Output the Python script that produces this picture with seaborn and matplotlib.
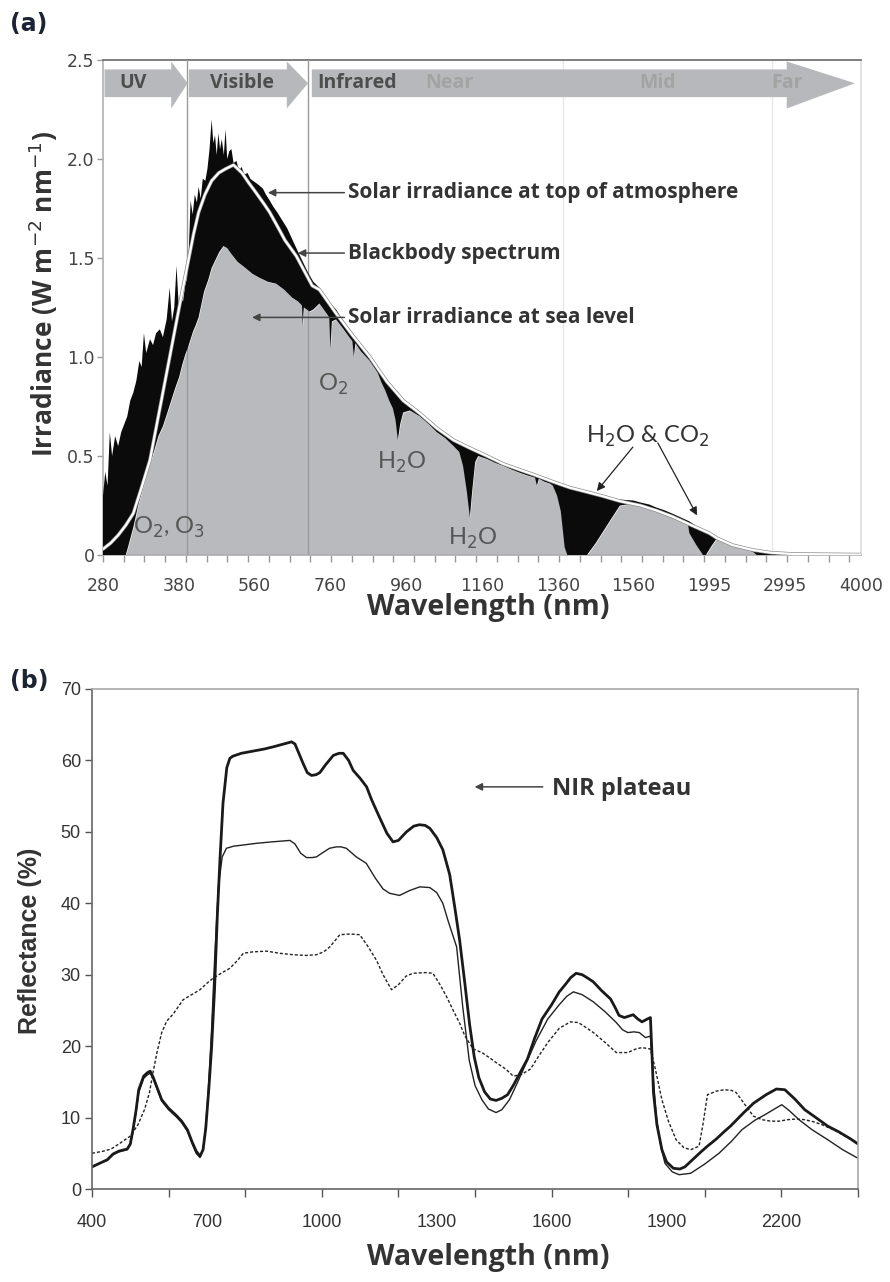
import numpy as np
import pandas as pd
import matplotlib
matplotlib.use("Agg")
import matplotlib.pyplot as plt
import seaborn as sns
from matplotlib.patches import Polygon
import matplotlib.patheffects as pe

# ---------------- data: panel (a) ----------------
tick_nm = [280, 380, 560, 760, 960, 1160, 1360, 1560, 1995, 2995, 4000]
tick_labels_a = ["280", "380", "560", "760", "960", "1160", "1360", "1560", "1995", "2995", "4000"]

toa_wl = [280, 283, 286, 289, 292, 296, 300, 304, 308, 312, 316, 320, 324, 328, 331, 334, 337,
          342, 346, 350, 355, 359, 364, 368, 371, 374, 377, 380, 385, 390, 395, 400, 404, 408,
          413, 418, 423, 427, 432, 437, 443, 448, 453, 458, 462, 466, 470, 474, 478, 482, 487,
          491, 495, 500, 505, 510, 517, 523, 529, 536, 543, 550, 556, 563, 570, 576, 582, 590,
          600, 609, 620, 633, 646, 658, 670, 685, 700, 715, 731, 750, 775, 795, 818, 840, 864,
          885, 909, 930, 952, 975, 996, 1020, 1041, 1063, 1085, 1105, 1128, 1150, 1173, 1195,
          1216, 1240, 1260, 1283, 1305, 1325, 1347, 1370, 1392, 1415, 1437, 1457, 1477, 1500,
          1524, 1560, 1600, 1650, 1690, 1740, 1780, 1830, 1880, 1930, 1995, 2095, 2300, 2570,
          2800, 3100, 3500, 4000]
toa_val = [0.30, 0.42, 0.35, 0.62, 0.50, 0.60, 0.55, 0.62, 0.66, 0.70, 0.78, 0.82, 0.88, 0.98, 0.95,
           1.12, 1.02, 1.09, 1.06, 1.12, 1.14, 1.10, 1.19, 1.35, 1.18, 1.25, 1.46, 1.25, 1.30, 1.28,
           1.36, 1.40, 1.55, 1.79, 1.72, 1.82, 1.78, 1.86, 1.80, 1.90, 1.89, 1.95, 2.05, 2.20, 2.08,
           2.12, 2.02, 2.13, 2.05, 2.10, 2.02, 2.15, 2.00, 2.04, 2.05, 1.98, 1.99, 1.94, 1.96, 1.92,
           1.93, 1.90, 1.89, 1.88, 1.87, 1.86, 1.85, 1.82, 1.79, 1.76, 1.73, 1.69, 1.65, 1.60, 1.55,
           1.49, 1.43, 1.38, 1.35, 1.29, 1.24, 1.18, 1.12, 1.06, 1.01, 0.95, 0.88, 0.83, 0.78, 0.75,
           0.72, 0.68, 0.64, 0.61, 0.58, 0.56, 0.54, 0.52, 0.50, 0.48, 0.46, 0.445, 0.43, 0.415,
           0.40, 0.385, 0.37, 0.355, 0.34, 0.33, 0.32, 0.31, 0.30, 0.29, 0.28, 0.275, 0.265, 0.255,
           0.24, 0.225, 0.21, 0.19, 0.17, 0.14, 0.115, 0.09, 0.055, 0.028, 0.015, 0.007, 0.006, 0.005]

sea_wl = [280, 300, 310, 313, 320, 327, 334, 340, 347, 353, 359, 365, 370, 375, 381, 388, 395, 402,
          408, 414, 420, 427, 434, 440, 445, 450, 458, 467, 476, 486, 495, 505, 520, 538, 555, 573,
          595, 617, 638, 659, 675, 685, 687, 690, 705, 715, 731, 750, 757, 760, 764, 775, 795, 810,
          818, 822, 826, 840, 864, 885, 895, 905, 915, 925, 932, 938, 944, 952, 970, 996, 1020,
          1041, 1063, 1085, 1100, 1110, 1120, 1128, 1134, 1142, 1150, 1173, 1195, 1216, 1240,
          1260, 1283, 1300, 1305, 1310, 1325, 1340, 1347, 1358, 1368, 1378, 1385, 1437, 1460,
          1480, 1500, 1524, 1560, 1600, 1650, 1690, 1740, 1780, 1830, 1872, 1880, 1920, 1958,
          1975, 2030, 2095, 2200, 2300, 2400, 2500, 2570, 2620, 4000]
sea_val = [0.0, 0.0, 0.0, 0.04, 0.14, 0.26, 0.36, 0.44, 0.52, 0.60, 0.65, 0.72, 0.78, 0.84, 0.90,
           0.96, 1.01, 1.05, 1.09, 1.13, 1.16, 1.20, 1.27, 1.33, 1.36, 1.39, 1.45, 1.49, 1.53, 1.56,
           1.55, 1.52, 1.48, 1.45, 1.42, 1.40, 1.38, 1.37, 1.34, 1.30, 1.28, 1.26, 1.16, 1.25, 1.23,
           1.24, 1.27, 1.22, 1.20, 1.04, 1.18, 1.19, 1.14, 1.10, 1.08, 1.00, 1.07, 1.03, 0.98, 0.92,
           0.87, 0.83, 0.78, 0.74, 0.68, 0.58, 0.66, 0.72, 0.73, 0.70, 0.66, 0.62, 0.59, 0.55, 0.52,
           0.45, 0.32, 0.19, 0.32, 0.47, 0.50, 0.485, 0.465, 0.45, 0.43, 0.415, 0.40, 0.39, 0.35,
           0.385, 0.37, 0.36, 0.35, 0.30, 0.22, 0.04, 0.0, 0.0, 0.06, 0.12, 0.18, 0.25, 0.26, 0.248,
           0.235, 0.222, 0.205, 0.193, 0.175, 0.155, 0.11, 0.05, 0.0, 0.0, 0.05, 0.085, 0.07, 0.05,
           0.038, 0.025, 0.015, 0.0, 0.0]

bb_wl = [280, 290, 300, 310, 320, 330, 342, 353, 364, 371, 378, 390, 403, 415, 427, 442, 458, 475,
         491, 510, 530, 546, 560, 586, 600, 626, 640, 670, 712, 731, 775, 818, 864, 909, 952, 996,
         1041, 1085, 1128, 1173, 1216, 1260, 1305, 1347, 1392, 1437, 1477, 1524, 1600, 1690, 1780,
         1880, 1995, 2095, 2300, 2570, 2800, 3100, 4000]
bb_val = [0.03, 0.06, 0.10, 0.15, 0.21, 0.33, 0.48, 0.70, 0.92, 1.06, 1.20, 1.35, 1.49, 1.62, 1.73,
          1.82, 1.89, 1.93, 1.95, 1.97, 1.93, 1.88, 1.84, 1.77, 1.73, 1.64, 1.59, 1.51, 1.36, 1.34,
          1.22, 1.11, 1.00, 0.875, 0.78, 0.715, 0.64, 0.58, 0.54, 0.50, 0.46, 0.43, 0.40, 0.37,
          0.34, 0.318, 0.298, 0.272, 0.25, 0.225, 0.195, 0.155, 0.11, 0.085, 0.05, 0.025, 0.012,
          0.005, 0.002]

# ---------------- data: panel (b) ----------------
thick_wl = [400, 420, 440, 455, 470, 492, 500, 507, 515, 522, 535, 545, 552, 560, 570, 582, 600, 620,
            634, 649, 662, 672, 682, 690, 697, 705, 712, 720, 727, 734, 742, 752, 760, 768, 790, 820,
            850, 873, 900, 921, 930, 940, 951, 962, 973, 985, 995, 1010, 1030, 1045, 1056, 1070,
            1082, 1100, 1117, 1130, 1151, 1170, 1186, 1200, 1221, 1240, 1255, 1270, 1282, 1300,
            1316, 1334, 1347, 1360, 1373, 1386, 1398, 1410, 1425, 1440, 1455, 1470, 1485, 1500,
            1520, 1537, 1555, 1575, 1600, 1620, 1634, 1650, 1664, 1680, 1695, 1709, 1730, 1754,
            1765, 1776, 1790, 1813, 1825, 1836, 1850, 1858, 1862, 1866, 1875, 1888, 1900, 1918,
            1935, 1948, 1970, 1990, 2007, 2030, 2050, 2067, 2100, 2127, 2160, 2187, 2209, 2235,
            2261, 2290, 2321, 2350, 2381, 2400]
thick_val = [3.1, 3.6, 4.1, 4.9, 5.3, 5.6, 6.3, 8.3, 11.0, 13.9, 15.8, 16.3, 16.5, 15.6, 14.2, 12.5,
             11.3, 10.3, 9.5, 8.3, 6.5, 5.3, 4.6, 5.5, 8.5, 14.0, 19.6, 28.0, 38.0, 46.0, 54.0, 59.0,
             60.3, 60.6, 61.0, 61.3, 61.6, 61.9, 62.3, 62.6, 62.3, 61.0, 59.6, 58.3, 57.9, 58.0, 58.3,
             59.4, 60.7, 61.0, 61.0, 60.0, 58.6, 57.5, 56.3, 54.5, 52.0, 49.8, 48.6, 48.8, 50.0, 50.8,
             51.0, 50.9, 50.5, 49.2, 47.5, 44.0, 39.5, 34.8, 29.0, 23.0, 18.5, 15.6, 13.6, 12.6, 12.4,
             12.7, 13.2, 14.5, 16.5, 18.2, 21.0, 23.8, 25.8, 27.6, 28.5, 29.6, 30.2, 30.0, 29.5, 29.0,
             27.8, 26.6, 25.5, 24.3, 24.0, 24.4, 23.8, 23.4, 23.8, 24.0, 19.0, 13.5, 9.0, 5.5, 3.8,
             2.9, 2.8, 3.1, 4.2, 5.2, 6.0, 7.0, 8.0, 8.8, 10.6, 12.0, 13.2, 14.0, 13.9, 12.6, 11.1,
             10.0, 8.8, 8.0, 7.0, 6.3]

thin_wl = [400, 420, 440, 455, 470, 492, 500, 507, 515, 522, 535, 545, 552, 560, 570, 582, 600, 620,
           634, 649, 662, 672, 682, 690, 697, 705, 712, 720, 730, 740, 751, 770, 786, 830, 870, 917,
           930, 945, 960, 975, 986, 1000, 1020, 1038, 1050, 1064, 1090, 1116, 1140, 1160, 1177,
           1203, 1230, 1256, 1282, 1300, 1316, 1330, 1352, 1368, 1385, 1400, 1418, 1435, 1455,
           1470, 1490, 1510, 1530, 1560, 1590, 1620, 1640, 1657, 1680, 1709, 1740, 1769, 1785,
           1799, 1815, 1829, 1845, 1858, 1865, 1873, 1885, 1896, 1915, 1933, 1963, 2000, 2037,
           2070, 2097, 2130, 2157, 2185, 2201, 2220, 2246, 2280, 2321, 2360, 2400]
thin_val = [3.1, 3.6, 4.0, 4.8, 5.2, 5.5, 6.2, 8.0, 10.8, 13.5, 15.5, 16.0, 16.2, 15.4, 14.0, 12.3,
            11.1, 10.1, 9.3, 8.1, 6.3, 5.0, 4.4, 5.6, 8.8, 15.0, 22.0, 32.0, 42.3, 46.5, 47.7, 48.0,
            48.1, 48.4, 48.6, 48.8, 48.3, 47.0, 46.4, 46.4, 46.5, 47.0, 47.7, 47.9, 47.9, 47.7, 46.5,
            45.6, 43.5, 42.0, 41.4, 41.1, 41.8, 42.3, 42.2, 41.5, 40.0, 37.5, 33.9, 25.5, 18.0, 14.5,
            12.5, 11.2, 10.7, 11.1, 12.5, 14.8, 17.2, 20.8, 23.8, 25.8, 27.0, 27.6, 27.2, 26.2, 24.8,
            23.3, 22.3, 21.9, 22.0, 21.9, 21.2, 21.4, 16.0, 10.2, 6.0, 3.6, 2.4, 2.0, 2.2, 3.5, 5.0,
            6.7, 8.3, 9.6, 10.4, 11.3, 11.8, 11.0, 9.7, 8.3, 6.9, 5.5, 4.3]

dash_wl = [400, 430, 450, 470, 500, 520, 537, 550, 560, 570, 582, 595, 612, 638, 660, 682, 700, 716,
           740, 760, 780, 795, 820, 856, 890, 925, 960, 986, 1005, 1021, 1035, 1047, 1075, 1099,
           1120, 1143, 1160, 1182, 1200, 1220, 1238, 1270, 1290, 1310, 1326, 1345, 1360, 1373,
           1395, 1418, 1440, 1455, 1480, 1500, 1520, 1545, 1565, 1590, 1620, 1649, 1670, 1690,
           1709, 1740, 1769, 1799, 1820, 1836, 1858, 1870, 1888, 1905, 1925, 1945, 1963, 1985,
           1995, 2007, 2030, 2052, 2070, 2082, 2105, 2127, 2150, 2172, 2195, 2216, 2240, 2261,
           2285, 2306, 2340, 2366, 2400]
dash_val = [5.0, 5.3, 5.6, 6.3, 7.4, 9.0, 11.1, 13.5, 16.5, 19.2, 21.9, 23.5, 24.5, 26.5, 27.2, 27.9,
            28.8, 29.5, 30.3, 30.9, 32.0, 33.0, 33.2, 33.3, 33.0, 32.8, 32.7, 32.8, 33.2, 33.9, 34.8,
            35.6, 35.7, 35.6, 34.0, 32.0, 30.0, 27.9, 28.6, 29.8, 30.2, 30.3, 30.2, 28.5, 26.9, 24.8,
            23.2, 21.5, 19.6, 19.1, 18.3, 17.7, 16.8, 15.8, 16.0, 16.8, 18.5, 20.5, 22.5, 23.4, 23.3,
            22.6, 21.9, 20.5, 19.1, 19.1, 19.6, 19.8, 19.6, 17.0, 12.5, 9.5, 6.9, 5.8, 5.5, 6.0, 9.0,
            13.2, 13.7, 13.9, 13.8, 13.5, 11.8, 10.2, 9.7, 9.5, 9.5, 9.7, 9.8, 9.7, 9.4, 9.0, 8.2,
            7.4, 6.4]

# ---------------- style ----------------
sns.set_theme(style="white")
plt.rcParams["font.family"] = ["DejaVu Sans"]
plt.rcParams["axes.unicode_minus"] = True

GRAY_FILL = "#b9babd"
ARROW_GRAY = "#b7b8bb"
TXT = "#333333"

fig = plt.figure(figsize=(8.9, 12.82), dpi=100)
ax1 = fig.add_axes([103/890, 1-555/1282, (861-103)/890, (555-60)/1282])
ax2 = fig.add_axes([92/890, 1-1189/1282, (858-92)/890, (1189-689)/1282])

# ---- panel (a) -----
idx = np.arange(len(tick_nm), dtype=float)
fwd = lambda x: np.interp(x, tick_nm, idx)
inv = lambda i: np.interp(i, idx, tick_nm)
ax1.set_xscale("function", functions=(fwd, inv))

# sea level (grey) area
ax1.fill_between(sea_wl, 0, sea_val, color=GRAY_FILL, lw=0, zorder=2)
# band boundary lines (visible over grey / white, hidden by black absorption area)
for wl, c, z in [(400, "#9a9a9a", 3), (700, "#9a9a9a", 3), (1375, "#e6e6e6", 1), (2823, "#e6e6e6", 1)]:
    ax1.axvline(wl, color=c, lw=1.0, zorder=z)
# black area between sea level and top of atmosphere
black_verts = list(zip(toa_wl, toa_val)) + list(zip(sea_wl[::-1], sea_val[::-1]))
ax1.add_patch(Polygon(black_verts, closed=True, facecolor="#0b0b0b", edgecolor="none", zorder=4))

bb_df = pd.DataFrame({"wl": bb_wl, "irr": bb_val})
sns.lineplot(data=bb_df, x="wl", y="irr", ax=ax1, color="white", lw=1.6, sort=False,
             zorder=5, path_effects=[pe.Stroke(linewidth=2.6, foreground="#8a8a8a"), pe.Normal()])

ax1.set_xlim(280, 4000)
ax1.set_ylim(0, 2.5)
ax1.set_xticks(tick_nm)
ax1.set_xticklabels(tick_labels_a)
ax1.set_xticks(inv(np.arange(0, 10.0001, 0.2735)), minor=True)
ax1.xaxis.remove_overlapping_locs = False
ax1.set_yticks([0, 0.5, 1.0, 1.5, 2.0, 2.5])
ax1.set_yticklabels(["0", "0.5", "1.0", "1.5", "2.0", "2.5"])
ax1.tick_params(axis="x", which="major", length=0, pad=16, labelsize=12.5, labelcolor="#444")
ax1.tick_params(axis="x", which="minor", length=5, width=1, color="#999", bottom=True)
ax1.tick_params(axis="y", which="major", length=4, width=1, color="#999", left=True,
                labelsize=12.5, labelcolor="#444", pad=2)
for s in ["left", "bottom", "right"]:
    ax1.spines[s].set_color("#b0b0b0")
    ax1.spines[s].set_linewidth(1.2)
ax1.spines["right"].set_color("#dddddd")
ax1.spines["top"].set_color("#6a6a6a")
ax1.spines["top"].set_linewidth(1.2)
ax1.set_xlabel("")
ax1.set_ylabel("")

# header arrows
xt = ax1.get_xaxis_transform()
def band_arrow(x0, xb, xtip):
    yb0, yb1, yh0, yh1 = 0.925, 0.981, 0.902, 0.997
    ym = (yb0 + yb1) / 2
    verts = [(x0, yb0), (xb, yb0), (xb, yh0), (xtip, ym), (xb, yh1), (xb, yb1), (x0, yb1)]
    ax1.add_patch(Polygon(verts, closed=True, transform=xt, facecolor=ARROW_GRAY,
                          edgecolor="none", zorder=6, clip_on=False))
band_arrow(282, 370, 401)
band_arrow(404, 645, 701)
band_arrow(711, 3015, 3920)

hfont = dict(family="Open Sans", weight="bold", fontsize=14, va="center", transform=xt, zorder=7)
ax1.text(inv(0.4), 0.953, "UV", color="#4d4d4d", ha="center", **hfont)
ax1.text(inv(1.834), 0.953, "Visible", color="#4d4d4d", ha="center", **hfont)
ax1.text(inv(2.83), 0.953, "Infrared", color="#4d4d4d", ha="left", **hfont)
ax1.text(inv(4.564), 0.953, "Near", color="#a3a3a3", ha="center", **hfont)
ax1.text(inv(7.31), 0.953, "Mid", color="#a3a3a3", ha="center", **hfont)
ax1.text(inv(9.02), 0.953, "Far", color="#a3a3a3", ha="center", **hfont)

# curve annotations
afont = dict(family="Open Sans", weight="bold", fontsize=15, color=TXT, va="center", ha="left", zorder=8)
aprops = dict(arrowstyle="-|>", color="#444444", lw=1.1, mutation_scale=11, shrinkA=0, shrinkB=0)
for txt, y, tip in [("Solar irradiance at top of atmosphere", 1.83, 595),
                    ("Blackbody spectrum", 1.525, 674),
                    ("Solar irradiance at sea level", 1.20, 554)]:
    ax1.annotate("", xy=(tip, y), xytext=(797, y), arrowprops=aprops, zorder=8)
    ax1.text(806, y, txt, **afont)

mfont = dict(family="Lato", fontsize=17, color="#555555", zorder=8)
ax1.text(320, 0.14, "O$_2$, O$_3$", ha="left", va="center", **mfont)
ax1.text(727, 0.86, "O$_2$", ha="left", va="center", **mfont)
ax1.text(948, 0.47, "H$_2$O", ha="center", va="center", **mfont)
ax1.text(1136, 0.085, "H$_2$O", ha="center", va="center", **mfont)
ax1.text(1638, 0.60, "H$_2$O & CO$_2$", ha="center", va="center", family="Lato", fontsize=17,
         color=TXT, zorder=8)
bprops = dict(arrowstyle="-|>", color="#222222", lw=0.9, mutation_scale=12, shrinkA=0, shrinkB=0)
ax1.annotate("", xy=(1463, 0.323), xytext=(1558, 0.545), arrowprops=bprops, zorder=8)
ax1.annotate("", xy=(1924, 0.20), xytext=(1699, 0.566), arrowprops=bprops, zorder=8)

fig.text(43/890, 1-294/1282, "Irradiance (W m$^{-2}$ nm$^{-1}$)", rotation=90, ha="center",
         va="center", family="Open Sans", weight="bold", fontsize=19, color=TXT)
fig.text(488/890, 1-608/1282, "Wavelength (nm)", ha="center", va="center", family="Open Sans",
         weight="bold", fontsize=20.5, color=TXT)
fig.text(10/890, 1-24/1282, "(a)", ha="left", va="center", weight="bold", fontsize=17, color="#1c2433")

# ---- panel (b) -----
df_b = pd.concat([
    pd.DataFrame({"wl": thick_wl, "refl": thick_val, "s": "thick"}),
    pd.DataFrame({"wl": thin_wl, "refl": thin_val, "s": "thin"}),
    pd.DataFrame({"wl": dash_wl, "refl": dash_val, "s": "dash"}),
])
sns.lineplot(data=df_b[df_b.s == "dash"], x="wl", y="refl", ax=ax2, color="#222222", lw=1.0,
             linestyle=(0, (2.2, 1.4)))
sns.lineplot(data=df_b[df_b.s == "thin"], x="wl", y="refl", ax=ax2, color="#222222", lw=1.0)
sns.lineplot(data=df_b[df_b.s == "thick"], x="wl", y="refl", ax=ax2, color="#1a1a1a", lw=2.0)

ax2.set_xlim(400, 2400)
ax2.set_ylim(0, 70)
ax2.set_xticks(np.arange(400, 2401, 200))
ax2.set_xticklabels([])
ax2.set_xticks(np.arange(400, 2201, 300), minor=True)
ax2.set_xticklabels([str(v) for v in range(400, 2201, 300)], minor=True)
ax2.xaxis.remove_overlapping_locs = False
ax2.set_yticks(np.arange(0, 71, 10))
ax2.tick_params(axis="x", which="major", length=6, width=1, color="#555", bottom=True)
ax2.tick_params(axis="x", which="minor", length=0, pad=18, labelsize=13, labelcolor=TXT)
ax2.tick_params(axis="y", which="major", length=5, width=1, color="#555", left=True,
                labelsize=13, labelcolor=TXT, pad=3)
for lbl in ax2.get_xticklabels(minor=True) + ax2.get_yticklabels():
    lbl.set_family("Liberation Sans")
ax2.spines["left"].set_color("#666")
ax2.spines["bottom"].set_color("#666")
ax2.spines["top"].set_color("#a8a8a8")
ax2.spines["right"].set_color("#a8a8a8")
for s in ax2.spines.values():
    s.set_linewidth(1.2)
ax2.set_xlabel("")
ax2.set_ylabel("")

ax2.annotate("", xy=(1399, 56.3), xytext=(1577, 56.3), arrowprops=aprops)
ax2.text(1600, 56.0, "NIR plateau", family="Open Sans", weight="bold", fontsize=17, color=TXT,
         ha="left", va="center")

fig.text(30/890, 1-941/1282, "Reflectance (%)", rotation=90, ha="center", va="center",
         family="Liberation Sans", weight="bold", fontsize=18, color=TXT)
fig.text(488/890, 1-1257/1282, "Wavelength (nm)", ha="center", va="center", family="Open Sans",
         weight="bold", fontsize=20.5, color=TXT)
fig.text(10/890, 1-681/1282, "(b)", ha="left", va="center", weight="bold", fontsize=17, color="#1c2433")

fig.savefig("out.png", dpi=100)
